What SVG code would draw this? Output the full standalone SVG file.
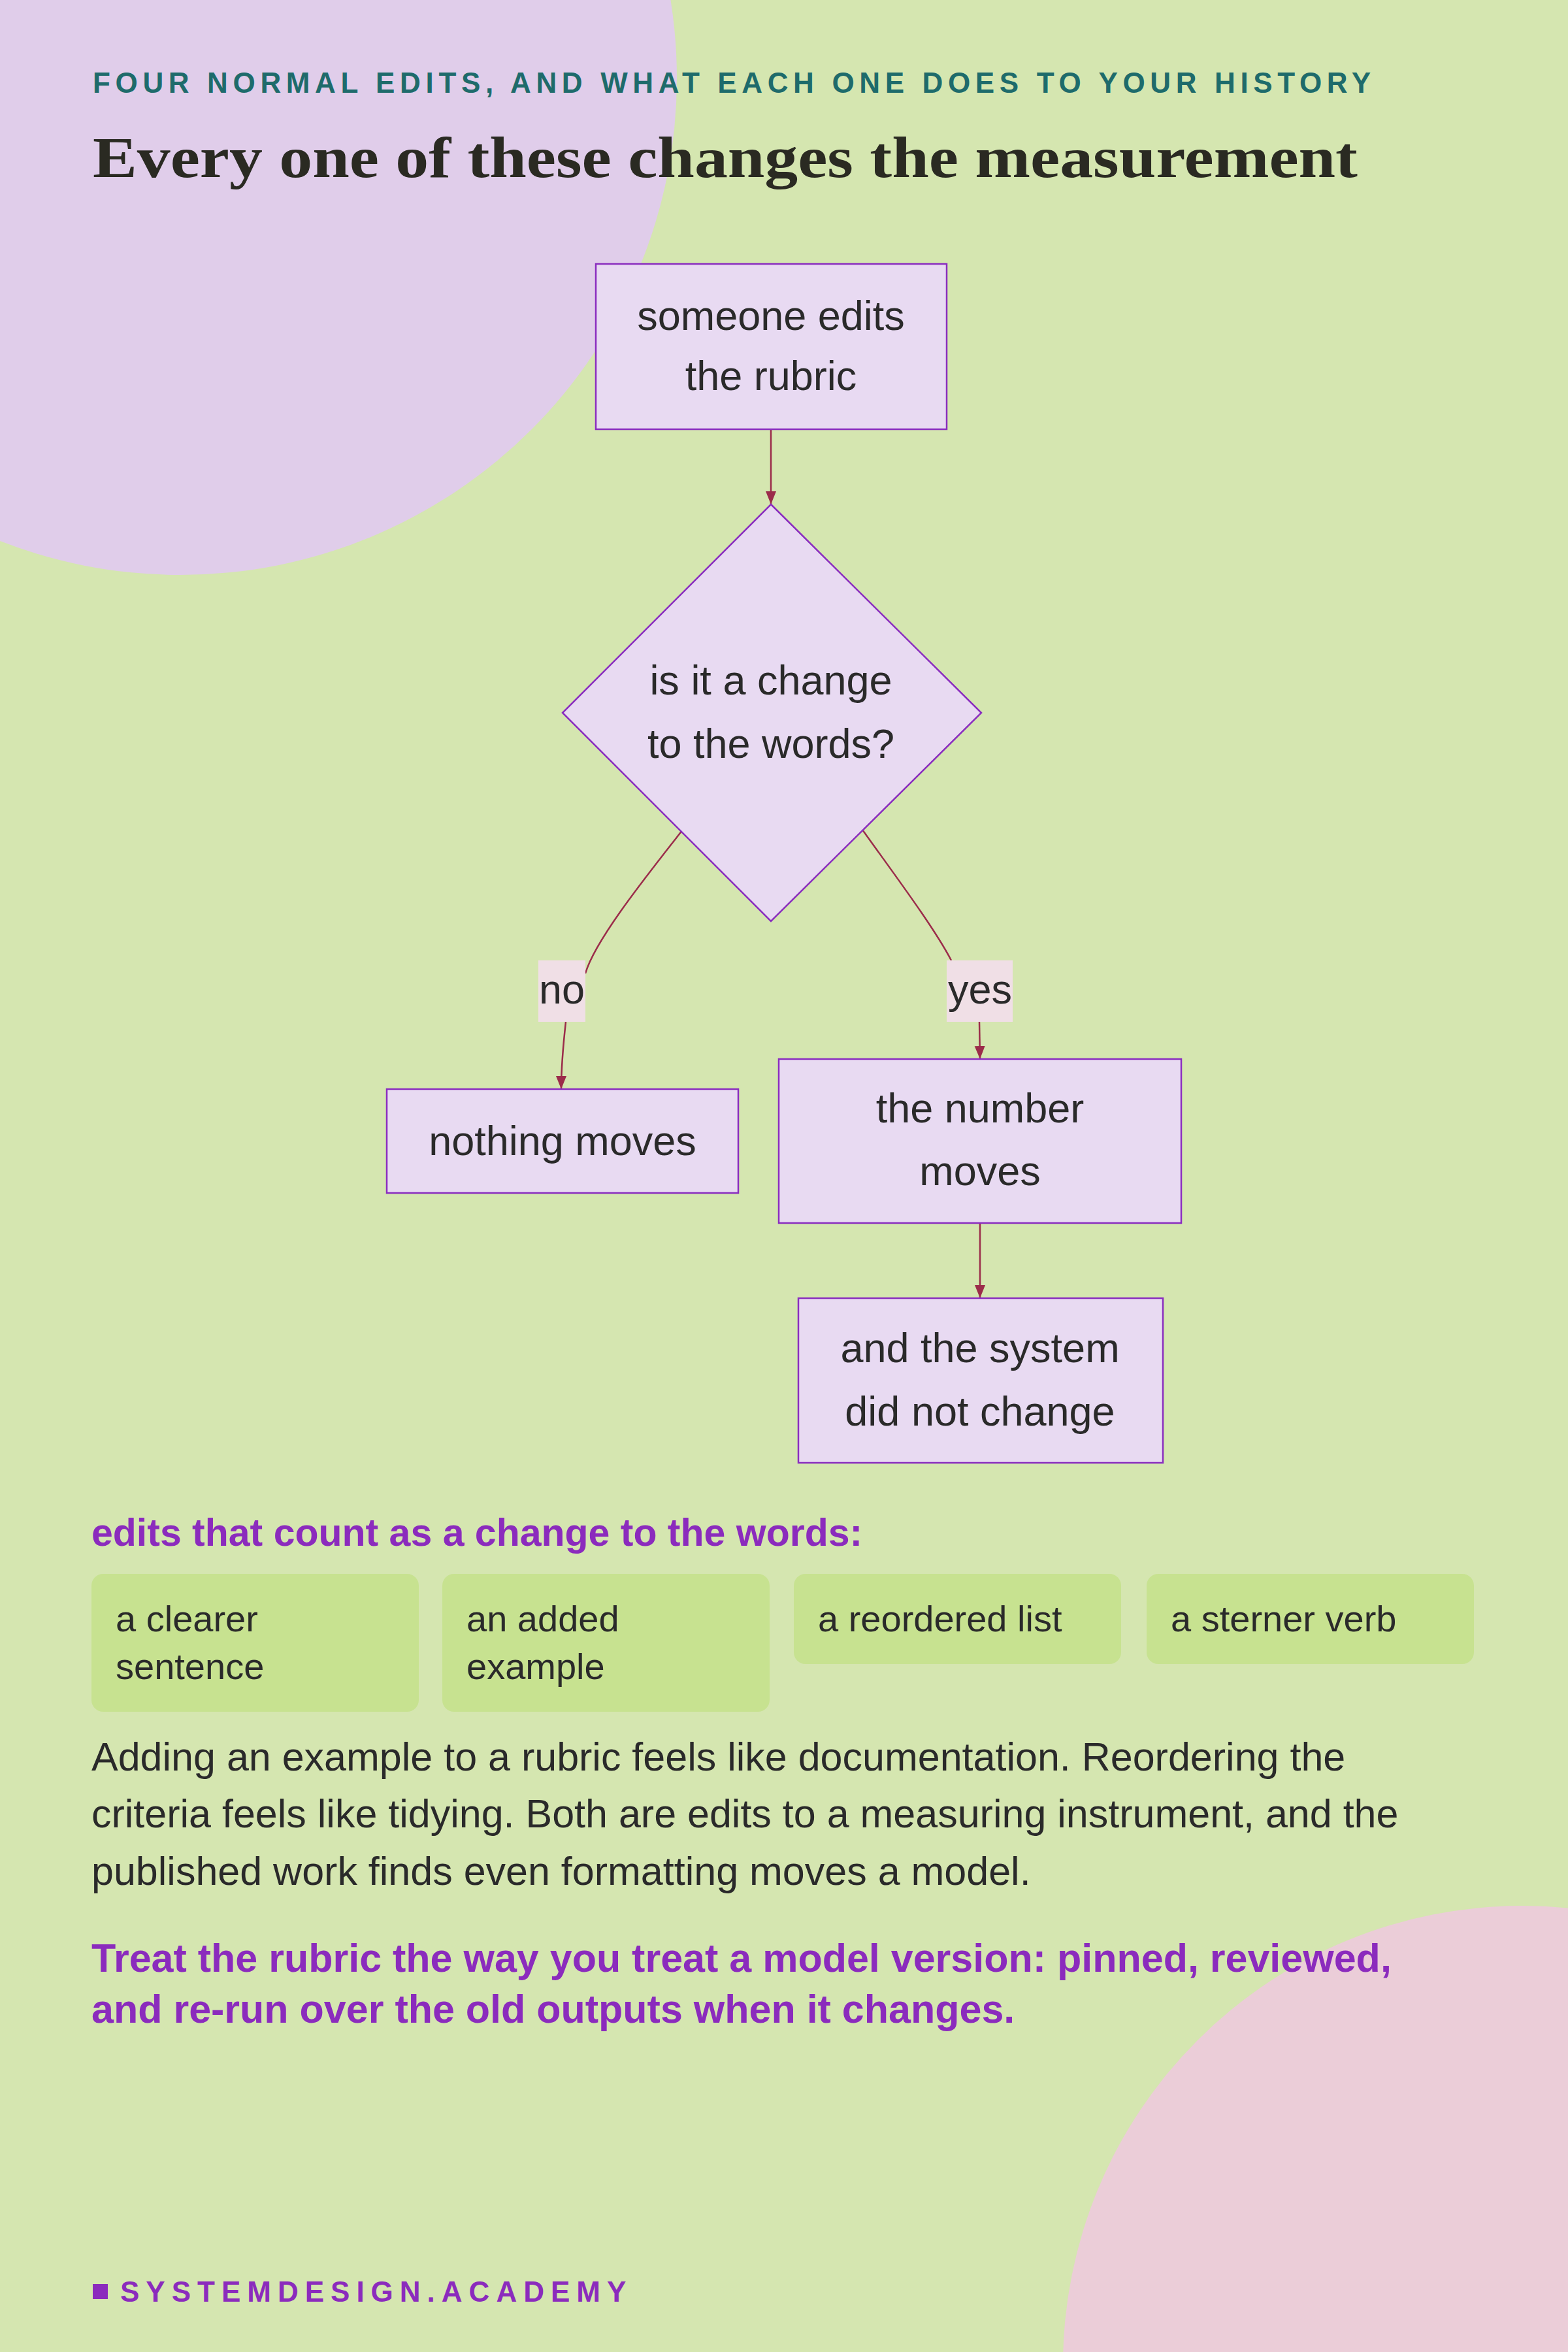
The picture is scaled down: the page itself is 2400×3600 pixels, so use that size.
<svg xmlns="http://www.w3.org/2000/svg" width="2400" height="3600" viewBox="0 0 2400 3600">
<style>
.node{fill:#e8daf2;stroke:#8a2dbf;stroke-width:2.5}
.nt{font-family:"Liberation Sans",Arial,sans-serif;font-size:63px;fill:#2a2a2a;text-anchor:middle}
.edge{fill:none;stroke:#9b2c4a;stroke-width:2.5}
.lbl{fill:#f0dfe6}
.chip{fill:#c7e290}
.ct{font-family:"Liberation Sans",Arial,sans-serif;font-size:56px;fill:#2a2a2a}
.body{font-family:"Liberation Sans",Arial,sans-serif;font-size:61px;fill:#2a2a2a}
.pb{font-family:"Liberation Sans",Arial,sans-serif;font-weight:bold;fill:#8b2bbd}
</style>
<defs>
<marker id="a2" viewBox="0 0 10 10" refX="10" refY="5" markerWidth="20" markerHeight="20" markerUnits="userSpaceOnUse" orient="auto"><path d="M0,1 L10,5 L0,9 z" fill="#9b2c4a"/></marker>
</defs>
<rect width="2400" height="3600" fill="#d5e6b0"/>
<circle cx="276" cy="120" r="760" fill="#e0cdea"/>
<circle cx="2330" cy="3620" r="703" fill="#ebcdd8"/>
<text x="142" y="142" font-family="Liberation Sans,Arial,sans-serif" font-weight="bold" font-size="44" letter-spacing="4" fill="#1e6b6b" textLength="1960" lengthAdjust="spacing">FOUR NORMAL EDITS, AND WHAT EACH ONE DOES TO YOUR HISTORY</text>
<text x="142" y="271" font-family="Liberation Serif,'Times New Roman',serif" font-weight="bold" font-size="88" fill="#2a2a22" textLength="1936" lengthAdjust="spacingAndGlyphs">Every one of these changes the measurement</text>
<g id="connectors">
<path class="edge" d="M1180,657 L1180,772" marker-end="url(#a2)"/>
<path class="edge" d="M1045,1270 C990,1340 910,1440 896,1490"/>
<path class="edge" d="M866,1564 C862,1600 859,1630 859,1667" marker-end="url(#a2)"/>
<path class="edge" d="M1320,1270 C1370,1340 1430,1420 1456,1470"/>
<path class="edge" d="M1499,1564 L1500,1621" marker-end="url(#a2)"/>
<path class="edge" d="M1500,1872 L1500,1987" marker-end="url(#a2)"/>
<rect class="lbl" x="824" y="1470" width="72" height="94"/>
<text class="nt" x="860" y="1536">no</text>
<rect class="lbl" x="1449" y="1470" width="101" height="94"/>
<text class="nt" x="1500" y="1536">yes</text>
</g>
<g id="n1"><rect class="node" x="912" y="404" width="537" height="253"/><text class="nt" x="1180" y="505">someone edits</text><text class="nt" x="1180" y="597">the rubric</text></g>
<g id="n2"><path class="node" d="M1180,772 L1502,1091 L1180,1410 L861,1091 z"/><text class="nt" x="1180" y="1063">is it a change</text><text class="nt" x="1180" y="1160">to the words?</text></g>
<g id="n3"><rect class="node" x="592" y="1667" width="538" height="159"/><text class="nt" x="861" y="1768">nothing moves</text></g>
<g id="n4"><rect class="node" x="1192" y="1621" width="616" height="251"/><text class="nt" x="1500" y="1718">the number</text><text class="nt" x="1500" y="1814">moves</text></g>
<g id="n5"><rect class="node" x="1222" y="1987" width="558" height="252"/><text class="nt" x="1500" y="2085">and the system</text><text class="nt" x="1500" y="2182">did not change</text></g>
<text class="pb" x="140" y="2366" font-size="59">edits that count as a change to the words:</text>
<rect class="chip" x="140" y="2409" width="501" height="211" rx="18"/>
<text class="ct" x="177" y="2497">a clearer</text><text class="ct" x="177" y="2570">sentence</text>
<rect class="chip" x="677" y="2409" width="501" height="211" rx="18"/>
<text class="ct" x="714" y="2497">an added</text><text class="ct" x="714" y="2570">example</text>
<rect class="chip" x="1215" y="2409" width="501" height="138" rx="18"/>
<text class="ct" x="1252" y="2497">a reordered list</text>
<rect class="chip" x="1755" y="2409" width="501" height="138" rx="18"/>
<text class="ct" x="1792" y="2497">a sterner verb</text>
<text class="body" x="140" y="2710">Adding an example to a rubric feels like documentation. Reordering the</text>
<text class="body" x="140" y="2797">criteria feels like tidying. Both are edits to a measuring instrument, and the</text>
<text class="body" x="140" y="2885">published work finds even formatting moves a model.</text>
<text class="pb" x="140" y="3018" font-size="61">Treat the rubric the way you treat a model version: pinned, reviewed,</text>
<text class="pb" x="140" y="3096" font-size="61">and re-run over the old outputs when it changes.</text>
<rect x="142" y="3496" width="23" height="23" fill="#8b2bbd"/>
<text x="184" y="3523" font-family="Liberation Sans,Arial,sans-serif" font-weight="bold" font-size="44" letter-spacing="10" fill="#8b2bbd">SYSTEMDESIGN.ACADEMY</text>
</svg>
